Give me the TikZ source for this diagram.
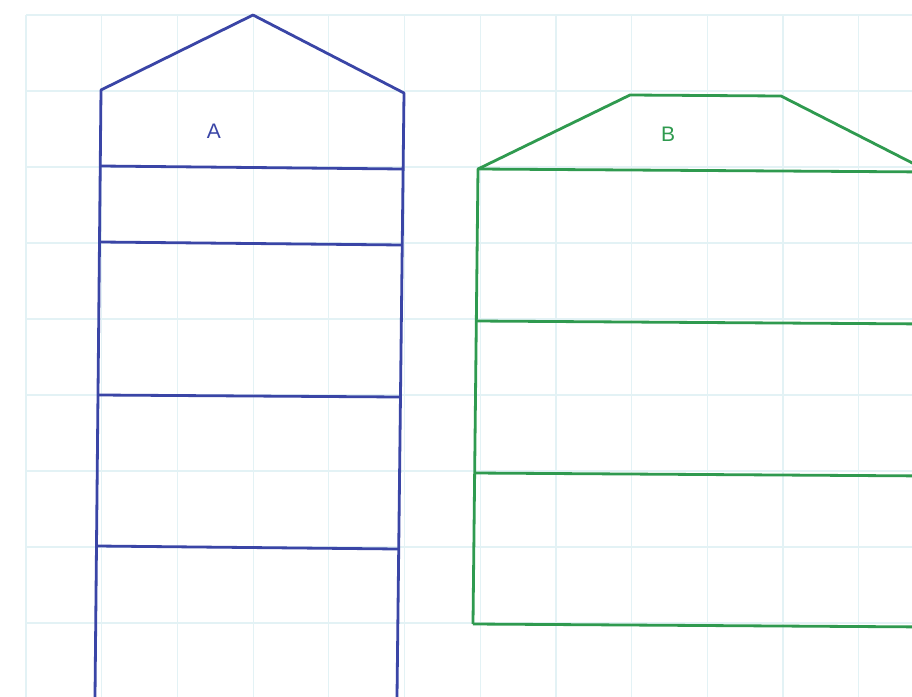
\documentclass[tikz,border=0pt]{standalone}
\usepackage{fontspec}
\setmainfont{Liberation Sans}
\definecolor{gridc}{HTML}{E3F2F5}
\definecolor{blueink}{HTML}{3A45A6}
\definecolor{greenink}{HTML}{2F9A4F}
\tikzset{
  gridline/.style={draw=gridc, line width=0.6pt},
  houseA/.style={draw=blueink, line width=1.4pt, line join=round},
  houseB/.style={draw=greenink, line width=1.4pt, line join=round},
  lbl/.style={font=\fontsize{10.5}{12}\selectfont, inner sep=0pt}
}
\begin{document}
\begin{tikzpicture}[x=0.5pt,y=-0.5pt]
\useasboundingbox (0,0) rectangle (912,697);
\clip (0,0) rectangle (912,697);
\fill[white] (0,0) rectangle (912,697);
% grid
\foreach \k in {0,...,11} {
  \draw[gridline] ({26+75.7*\k},15) -- ({26+75.7*\k},697);
}
\foreach \k in {0,...,8} {
  \draw[gridline] (26,{15+76*\k}) -- (912,{15+76*\k});
}
% house A
\coordinate (a1) at (95,697);
\coordinate (a2) at (101,90);
\coordinate (a3) at (253,15);
\coordinate (a4) at (404,93);
\coordinate (a5) at (397,697);
\draw[houseA] (a1) -- (a2) -- (a3) -- (a4) -- (a5);
\draw[houseA] (101,166) -- (403,169);
\draw[houseA] (101,242) -- (402,245);
\draw[houseA] (99,395) -- (400,397);
\draw[houseA] (97,546) -- (398,549);
\node[lbl, text=blueink] (labA) at (214,131) {A};
% house B
\coordinate (b1) at (473,624);
\coordinate (b2) at (478,169);
\coordinate (b3) at (630,95);
\coordinate (b4) at (781,96);
\coordinate (b5) at (930,172);
\draw[houseB] (b1) -- (b2) -- (b3) -- (b4) -- (b5);
\draw[houseB] (b2) -- (930,172);
\draw[houseB] (476,321) -- (930,324);
\draw[houseB] (474,473) -- (930,476);
\draw[houseB] (b1) -- (930,627);
\node[lbl, text=greenink] (labB) at (668,134) {B};
\end{tikzpicture}
\end{document}
